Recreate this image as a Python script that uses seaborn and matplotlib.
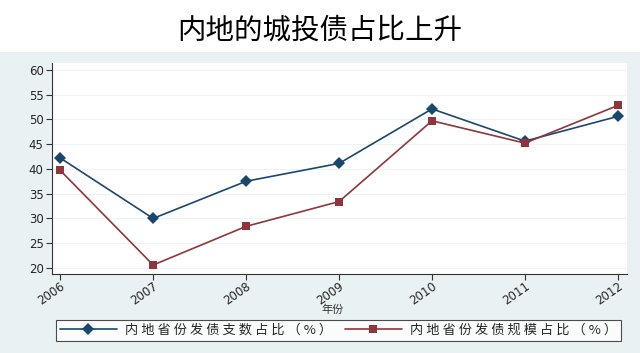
import pandas as pd
import matplotlib.pyplot as plt
import seaborn as sns
from matplotlib.patches import Rectangle

years = [2006, 2007, 2008, 2009, 2010, 2011, 2012]
count_share = [42.2, 30.0, 37.5, 41.1, 52.1, 45.6, 50.6]
scale_share = [39.7, 20.6, 28.4, 33.4, 49.7, 45.2, 52.8]
series_names = ["内地省份发债支数占比（%）", "内地省份发债规模占比（%）"]
yticks = [20, 25, 30, 35, 40, 45, 50, 55, 60]

df = pd.DataFrame({
    "年份": years * 2,
    "占比": count_share + scale_share,
    "系列": [series_names[0]] * len(years) + [series_names[1]] * len(years),
})

sns.set_style("white")
plt.rcParams['font.family'] = ['Noto Sans CJK SC', 'DejaVu Sans']

bg = "#eaf1f2"
fig = plt.figure(figsize=(6.4, 3.53), dpi=100, facecolor=bg)
fig.patches.append(Rectangle((0, 0.853), 1, 0.147, transform=fig.transFigure,
                             facecolor="white", edgecolor="none", zorder=0))
fig.text(0.5, 0.913, "内地的城投债占比上升", ha="center", va="center",
         fontsize=20.5, color="black")

ax = fig.add_axes([0.081, 0.224, 0.899, 0.598])
ax.set_facecolor("white")

sns.lineplot(data=df, x="年份", y="占比", hue="系列", style="系列",
             palette=["#1a476f", "#90353b"], markers=["D", "s"], dashes=False,
             markersize=6, linewidth=1.2, markeredgewidth=0, ax=ax)

ax.set_xlim(2005.91, 2012.1)
ax.set_ylim(18.8, 61.4)
ax.set_xticks(years)
ax.set_xticklabels([str(y) for y in years], rotation=35, ha="right",
                   rotation_mode="anchor", fontsize=8.5, family="DejaVu Sans")
ax.set_yticks(yticks)
ax.set_yticklabels([str(t) for t in yticks], fontsize=8.5, family="DejaVu Sans")
ax.tick_params(axis="y", direction="out", length=4, width=0.8, color="#333333", pad=2, left=True)
ax.tick_params(axis="x", direction="out", length=4, width=0.8, color="#333333", pad=0, bottom=True)
for t in ax.get_yticks():
    ax.axhline(t, color="#eef3f4", linewidth=0.8, zorder=0)
for s in ["top", "right"]:
    ax.spines[s].set_visible(False)
for s in ["left", "bottom"]:
    ax.spines[s].set_color("#333333")
    ax.spines[s].set_linewidth(0.8)
ax.set_ylabel("")
ax.set_xlabel("")
# x axis title sits just below the rotated year labels
fig.text(0.519, 0.122, "年份", ha="center", va="center", fontsize=8, color="#333333")

handles, labels = ax.get_legend_handles_labels()
ax.legend_.remove()
spaced = [" ".join(lab) for lab in labels]
leg = fig.legend(handles, spaced, ncol=2, loc="lower left",
                 bbox_to_anchor=(0.0875, 0.034),
                 frameon=True, fancybox=False, edgecolor="#222222", facecolor="white",
                 fontsize=9.5, handlelength=4.3, handletextpad=0.6, columnspacing=1.0,
                 borderpad=0.3, borderaxespad=0)
leg.get_frame().set_linewidth(0.8)

fig.savefig("out.png", dpi=100, facecolor=bg)
